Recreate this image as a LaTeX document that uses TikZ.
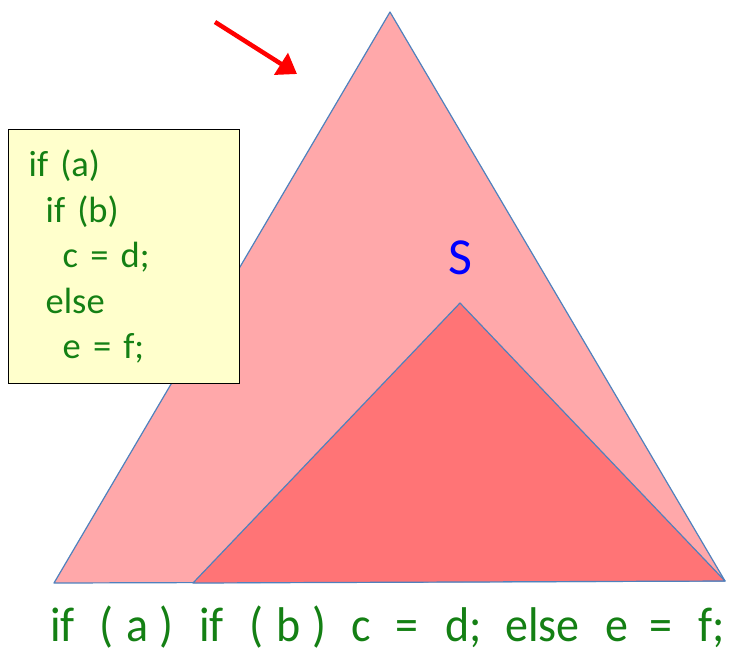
\documentclass[tikz,border=0pt]{standalone}
\usepackage{fontspec}
\setmainfont{Carlito}
\usetikzlibrary{arrows.meta}

\definecolor{outerpink}{RGB}{255,168,170}
\definecolor{innerred}{RGB}{255,116,118}
\definecolor{edgeblue}{RGB}{79,129,189}
\definecolor{codegreen}{RGB}{20,128,20}
\definecolor{notebg}{RGB}{255,255,204}

\tikzset{
  tree/.style = {draw = edgeblue, line width = 1.2pt, line join = round},
  note/.style = {draw = black, line width = 1.4pt, fill = notebg,
                 text = codegreen, anchor = north west, align = left,
                 minimum width = 231pt, minimum height = 254pt,
                 text width = 191pt, inner xsep = 20pt,
                 font = \fontsize{36.5}{45.5}\selectfont},
  token/.style = {text = codegreen, anchor = base west, inner sep = 0pt,
                  font = \fontsize{46}{52}\selectfont, yscale = 1.06},
  pointer/.style = {draw = red, line width = 4.5pt,
                    -{Triangle[length = 19pt, width = 25pt]}}
}

\begin{document}
\begin{tikzpicture}[x = 1pt, y = -1pt]
\useasboundingbox (0, 0) rectangle (735, 649);

% the whole statement
\coordinate (top) at (390, 12);
\coordinate (left) at (54, 583);
\coordinate (right) at (725, 581);
\filldraw[tree, fill = outerpink] (left) -- (top) -- (right) -- cycle;

% the inner statement
\coordinate (itop) at (460, 303);
\coordinate (ileft) at (193, 583);
\filldraw[tree, fill = innerred] (ileft) -- (itop) -- (right) -- cycle;

\node[text = blue, font = \fontsize{52}{60}\selectfont] (S) at (460, 258) {S};

% the source
\node[note] (code) at (8, 129) {if (a)\\
  \hspace*{17pt}if (b)\\
  \hspace*{34pt}c = d;\\
  \hspace*{17pt}else\\
  \hspace*{34pt}e = f;};

% the tokens along the base
\foreach \w/\x [count = \i] in {if/50, {(}/99, a/126, {)}/159, if/199, {(}/249,
    b/276, {)}/312, c/351, =/395, d;/445, else/505, e/605, =/649, f;/698}
  \node[token] (w\i) at (\x, 641) {\w};

% the arrow
\coordinate (tail) at (215, 22);
\coordinate (head) at (297, 74);
\draw[pointer] (tail) -- (head);

\end{tikzpicture}
\end{document}
